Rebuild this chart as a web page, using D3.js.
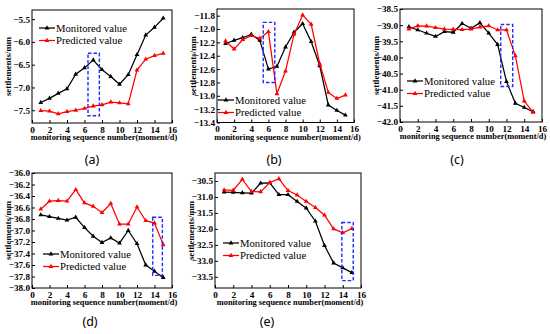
<!DOCTYPE html>
<html>
<head>
<meta charset="utf-8">
<script src="https://cdn.jsdelivr.net/npm/d3@7"></script>
<style>
  body { margin: 0; background: #fff; }
  svg { display: block; }
  .serif { font-family: "Liberation Serif", "DejaVu Serif", serif; }
</style>
</head>
<body>
<svg id="chart" width="550" height="334"></svg>
<script>
// monitoring sequence numbers (moment/d)
const seq = [1, 2, 3, 4, 5, 6, 7, 8, 9, 10, 11, 12, 13, 14, 15];
const xTicks = [0, 2, 4, 6, 8, 10, 12, 14, 16];

// (a)
const monitoredA = [-7.33, -7.24, -7.13, -7.03, -6.71, -6.57, -6.40, -6.61, -6.76, -6.93, -6.72, -6.28, -5.85, -5.68, -5.48];
const predictedA = [-7.51, -7.52, -7.58, -7.53, -7.50, -7.46, -7.41, -7.38, -7.32, -7.34, -7.36, -6.62, -6.38, -6.30, -6.25];
const yTicksA = [-7.5, -7.0, -6.5, -6.0, -5.5];
const boxA = [6.4, 7.7, -7.62, -6.25];

// (b)
const monitoredB = [-12.22, -12.17, -12.13, -12.08, -12.17, -12.60, -12.56, -12.27, -12.05, -11.92, -12.19, -12.55, -13.14, -13.22, -13.29];
const predictedB = [-12.18, -12.30, -12.16, -12.10, -12.14, -12.04, -12.97, -12.63, -12.08, -11.79, -11.93, -12.52, -12.95, -13.04, -12.99];
const yTicksB = [-13.4, -13.2, -13.0, -12.8, -12.6, -12.4, -12.2, -12.0, -11.8];
const boxB = [5.4, 6.75, -12.8, -11.9];

// (c)
const monitoredC = [-39.05, -39.15, -39.25, -39.35, -39.20, -39.22, -38.95, -39.10, -38.93, -39.25, -39.60, -40.75, -41.42, -41.55, -41.68];
const predictedC = [-39.12, -39.02, -39.03, -39.08, -39.12, -39.13, -39.14, -39.12, -39.06, -39.02, -39.15, -39.15, -39.95, -41.35, -41.70];
const yTicksC = [-42.0, -41.5, -41.0, -40.5, -40.0, -39.5, -39.0, -38.5];
const boxC = [11.35, 12.7, -40.9, -38.98];

// (d)
const monitoredD = [-36.73, -36.76, -36.79, -36.82, -36.77, -36.95, -37.10, -37.21, -37.13, -37.22, -37.00, -37.23, -37.60, -37.71, -37.82];
const predictedD = [-36.63, -36.49, -36.48, -36.49, -36.29, -36.52, -36.58, -36.69, -36.53, -36.89, -36.89, -36.59, -36.83, -36.87, -37.25];
const yTicksD = [-38.0, -37.8, -37.6, -37.4, -37.2, -37.0, -36.8, -36.6, -36.4, -36.2, -36.0];
const boxD = [13.8, 14.9, -37.78, -36.77];

// (e)
const monitoredE = [-30.85, -30.86, -30.87, -30.88, -30.57, -30.56, -30.93, -30.93, -31.14, -31.35, -31.76, -32.52, -33.07, -33.22, -33.37];
const predictedE = [-30.78, -30.79, -30.45, -30.83, -30.84, -30.55, -30.43, -30.80, -30.94, -31.14, -31.33, -31.57, -32.00, -32.12, -31.99];
const yTicksE = [-33.5, -33.0, -32.5, -32.0, -31.5, -31.0, -30.5];
const boxE = [13.9, 15.15, -33.62, -31.8];

const seriesNames = ["Monitored value", "Predicted value"];
const seriesColors = ["#000000", "#ff0000"];

const panels = [
  { label: "(a)", mon: monitoredA, pre: predictedA, yTicks: yTicksA, yDomain: [-7.78, -5.3], box: boxA,
    left: 32, right: 172, top: 10, bottom: 123, legend: [39, 28], labelPos: [92, 160] },
  { label: "(b)", mon: monitoredB, pre: predictedB, yTicks: yTicksB, yDomain: [-13.4, -11.7], box: boxB,
    left: 217, right: 354, top: 9, bottom: 122.5, legend: [218, 100], labelPos: [274, 160] },
  { label: "(c)", mon: monitoredC, pre: predictedC, yTicks: yTicksC, yDomain: [-42, -38.5], box: boxC,
    left: 400, right: 542, top: 9, bottom: 122, legend: [407, 81], labelPos: [457, 160] },
  { label: "(d)", mon: monitoredD, pre: predictedD, yTicks: yTicksD, yDomain: [-38, -36], box: boxD,
    left: 32, right: 172, top: 173, bottom: 288, legend: [43, 254], labelPos: [90, 322] },
  { label: "(e)", mon: monitoredE, pre: predictedE, yTicks: yTicksE, yDomain: [-33.85, -30.25], box: boxE,
    left: 215, right: 361, top: 173, bottom: 288, legend: [223, 243], labelPos: [267, 322] }
];

const svg = d3.select("#chart");
const tri = d3.symbol().type(d3.symbolTriangle).size(10);

panels.forEach(p => {
  const x = d3.scaleLinear().domain([0, 16]).range([p.left, p.right]);
  const y = d3.scaleLinear().domain(p.yDomain).range([p.bottom, p.top]);
  const g = svg.append("g");

  // axes with inward ticks
  const xAxis = g.append("g")
    .attr("transform", "translate(0," + p.bottom + ")")
    .call(d3.axisBottom(x).tickValues(xTicks).tickSizeInner(-3).tickSizeOuter(0).tickPadding(3));
  const yAxis = g.append("g")
    .attr("transform", "translate(" + p.left + ",0)")
    .call(d3.axisLeft(y).tickValues(p.yTicks).tickFormat(d3.format(".1f")).tickSizeInner(-3).tickSizeOuter(0).tickPadding(2));
  [xAxis, yAxis].forEach(a => {
    a.attr("font-family", null).attr("font-size", null);
    a.select(".domain").remove();
    a.selectAll("line").attr("stroke", "#000");
    a.selectAll("text")
      .attr("class", "serif")
      .attr("fill", "#000")
      .attr("font-weight", "bold")
      .attr("font-size", 9.2);
  });

  // frame
  g.append("rect")
    .attr("x", p.left).attr("y", p.top)
    .attr("width", p.right - p.left).attr("height", p.bottom - p.top)
    .attr("fill", "none").attr("stroke", "#000").attr("stroke-width", 1);

  // axis titles
  g.append("text")
    .attr("class", "serif")
    .attr("x", (p.left + p.right) / 2 + 2).attr("y", p.bottom + 17)
    .attr("text-anchor", "middle")
    .attr("font-weight", "bold").attr("font-size", 8.4)
    .text("monitoring sequence number(moment/d)");
  g.append("text")
    .attr("class", "serif")
    .attr("transform", "translate(" + (p.left - 24) + "," + ((p.top + p.bottom) / 2) + ") rotate(-90)")
    .attr("text-anchor", "middle")
    .attr("dy", "0.35em")
    .attr("font-weight", "bold").attr("font-size", 8.8)
    .text("settlements/mm");

  // series
  const line = d3.line().x((d, i) => x(seq[i])).y(d => y(d));
  [p.mon, p.pre].forEach((vals, k) => {
    g.append("path")
      .datum(vals)
      .attr("d", line)
      .attr("fill", "none")
      .attr("stroke", seriesColors[k])
      .attr("stroke-width", 1.25);
    g.selectAll(null)
      .data(vals)
      .enter()
      .append("path")
      .attr("d", tri)
      .attr("transform", (d, i) => "translate(" + x(seq[i]) + "," + y(d) + ")")
      .attr("fill", seriesColors[k]);
  });

  // highlight box
  g.append("rect")
    .attr("x", x(p.box[0])).attr("y", y(p.box[3]))
    .attr("width", x(p.box[1]) - x(p.box[0]))
    .attr("height", y(p.box[2]) - y(p.box[3]))
    .attr("fill", "none")
    .attr("stroke", "#1f2bff")
    .attr("stroke-width", 1.4)
    .attr("stroke-dasharray", "3.5,2");

  // legend
  seriesNames.forEach((name, k) => {
    const lx = p.legend[0], ly = p.legend[1] + k * 12.5;
    g.append("line")
      .attr("x1", lx).attr("x2", lx + 16).attr("y1", ly).attr("y2", ly)
      .attr("stroke", seriesColors[k]).attr("stroke-width", 1.25);
    g.append("path")
      .attr("d", tri)
      .attr("transform", "translate(" + (lx + 8) + "," + ly + ")")
      .attr("fill", seriesColors[k]);
    g.append("text")
      .attr("class", "serif")
      .attr("x", lx + 17).attr("y", ly).attr("dy", "0.35em")
      .attr("font-size", 10.7)
      .text(name);
  });

  // panel label
  svg.append("text")
    .attr("x", p.labelPos[0]).attr("y", p.labelPos[1]).attr("dy", "0.35em")
    .attr("text-anchor", "middle")
    .attr("font-family", "Noto Sans, sans-serif").attr("font-size", 12.5)
    .text(p.label);
});
</script>
</body>
</html>
